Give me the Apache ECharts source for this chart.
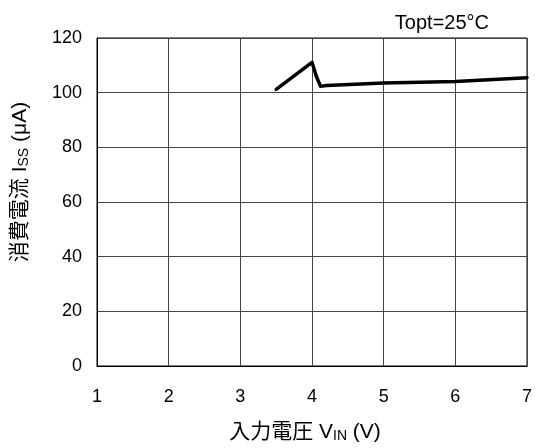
<!DOCTYPE html>
<html>
<head>
<meta charset="utf-8">
<script src="https://cdn.jsdelivr.net/npm/echarts@6/dist/echarts.min.js"></script>
<style>
  html, body { margin: 0; padding: 0; background: #fff; }
  #chart { width: 536px; height: 448px; }
</style>
</head>
<body>
<div id="chart"></div>
<script>
// Supply current vs. input voltage
const vinVolts = [3.5, 4.0, 4.06, 4.12, 4.2, 5.0, 6.0, 7.0];
const issMicroAmps = [101.2, 111.1, 106.0, 102.3, 102.6, 103.5, 104.1, 105.5];
const xTicks = [1, 2, 3, 4, 5, 6, 7];
const yTicks = [0, 20, 40, 60, 80, 100, 120];

const FONT = '"Liberation Sans", Arial, "Noto Sans CJK JP", sans-serif';

const chart = echarts.init(document.getElementById('chart'), null, { renderer: 'canvas' });

chart.setOption({
  animation: false,
  backgroundColor: '#fff',
  textStyle: { fontFamily: FONT },
  title: {
    text: 'Topt=25°C',
    right: 42,
    top: 8,
    textStyle: { fontFamily: FONT, fontSize: 20, fontWeight: 'normal', color: '#000' }
  },
  grid: { left: 97, right: 9, top: 38, bottom: 80, show: true, borderColor: '#000', borderWidth: 1 },
  xAxis: {
    type: 'value',
    min: xTicks[0],
    max: xTicks[xTicks.length - 1],
    interval: 1,
    name: '入力電圧 V{sub|IN} (V)',
    nameLocation: 'middle',
    nameGap: 56,
    nameTextStyle: {
      fontFamily: FONT, fontSize: 21, color: '#000',
      padding: [0, 14, 0, 0],
      rich: { sub: { fontFamily: FONT, fontSize: 14, color: '#000', verticalAlign: 'bottom', padding: [6, 0, 0, 0] } }
    },
    axisLine: { lineStyle: { color: '#000', width: 1 } },
    axisTick: { show: false },
    axisLabel: { margin: 22, fontFamily: FONT, fontSize: 18, color: '#000' },
    splitLine: { show: true, lineStyle: { color: '#444', width: 1 } }
  },
  yAxis: {
    type: 'value',
    min: yTicks[0],
    max: yTicks[yTicks.length - 1],
    interval: 20,
    name: '消費電流 I{sub|SS} (μA)',
    nameLocation: 'middle',
    nameRotate: 90,
    nameGap: 66,
    nameTextStyle: {
      fontFamily: FONT, fontSize: 21, color: '#000',
      padding: [0, 0, 0, 40],
      rich: { sub: { fontFamily: FONT, fontSize: 14, color: '#000', verticalAlign: 'bottom', padding: [6, 0, 0, 0] } }
    },
    axisLine: { show: true, lineStyle: { color: '#000', width: 1 } },
    axisTick: { show: false },
    axisLabel: { margin: 15, fontFamily: FONT, fontSize: 18, color: '#000' },
    splitLine: { show: true, lineStyle: { color: '#444', width: 1 } }
  },
  series: [{
    type: 'line',
    data: vinVolts.map((v, i) => [v, issMicroAmps[i]]),
    showSymbol: false,
    symbol: 'none',
    lineStyle: { color: '#000', width: 3.5, join: 'round', cap: 'round' },
    clip: true
  }]
});
</script>
</body>
</html>
